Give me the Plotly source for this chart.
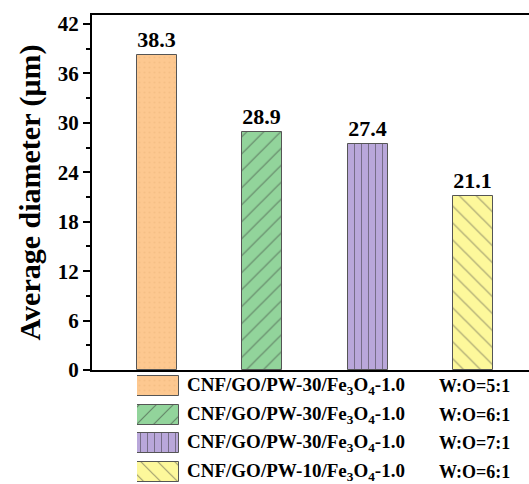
import plotly.graph_objects as go

# ---- data ----
samples = ["CNF/GO/PW-30/Fe<sub>3</sub>O<sub>4</sub>-1.0",
           "CNF/GO/PW-30/Fe<sub>3</sub>O<sub>4</sub>-1.0",
           "CNF/GO/PW-30/Fe<sub>3</sub>O<sub>4</sub>-1.0",
           "CNF/GO/PW-10/Fe<sub>3</sub>O<sub>4</sub>-1.0"]
ratios = ["W:O=5:1", "W:O=6:1", "W:O=7:1", "W:O=6:1"]
diameters = [38.3, 28.9, 27.4, 21.1]
y_ticks = [0, 6, 12, 18, 24, 30, 36, 42]

# ---- styles ----
colors = ["#FDC890", "#92D49B", "#B9A7DA", "#FDF89B"]
pat_shapes = [".", "/", "|", "\\"]
pat_fg = ["#EDB57A", "#333333", "#333333", "#444444"]
pat_size = [5, 12, 7, 12]
pat_sol = [0.15, 0.1, 0.15, 0.1]
FONT = "Liberation Serif, Times New Roman, serif"

W, H = 529, 484
ML, MT = 92, 15
plot_bottom_px = 370
main_dom_bottom = (H - plot_bottom_px) / (H - MT)

fig = go.Figure()
xs = list(range(len(diameters)))
for i in xs:
    fig.add_trace(go.Bar(
        x=[i], y=[diameters[i]], width=0.38,
        marker=dict(color=colors[i], line=dict(color="#555555", width=1),
                    pattern=dict(shape=pat_shapes[i], fgcolor=pat_fg[i], bgcolor=colors[i],
                                 size=pat_size[i], solidity=pat_sol[i])),
        text=[f"{diameters[i]:.1f}"], textposition="outside",
        textfont=dict(family=FONT, size=22, color="black", weight="bold"),
        cliponaxis=False, showlegend=False, xaxis="x", yaxis="y"))

# legend patches (drawn as horizontal bars on an overlay axis)
ROW = 28.5          # legend row pitch in px
ROW0 = 386          # first legend row centre in px
leg_rows = list(range(len(samples)))
for i in leg_rows:
    fig.add_trace(go.Bar(
        y=[i], x=[1], base=[0], orientation="h", width=20 / ROW,
        marker=dict(color=colors[i], line=dict(color="#555555", width=1),
                    pattern=dict(shape=pat_shapes[i], fgcolor=pat_fg[i], bgcolor=colors[i],
                                 size=pat_size[i], solidity=pat_sol[i])),
        showlegend=False, hoverinfo="skip", xaxis="x2", yaxis="y2"))

annotations = []
for i in leg_rows:
    annotations.append(dict(x=(185 - ML) / (W - ML), y=i, xref="paper", yref="y2",
                            text=samples[i], showarrow=False, xanchor="left", yanchor="middle",
                            font=dict(family=FONT, size=19, color="black", weight="bold")))
    annotations.append(dict(x=(437 - ML) / (W - ML), y=i, xref="paper", yref="y2",
                            text=ratios[i], showarrow=False, xanchor="left", yanchor="middle",
                            font=dict(family=FONT, size=18, color="black", weight="bold")))

leg_top_px = 373
fig.update_layout(
    width=W, height=H,
    margin=dict(l=ML, r=0, t=MT, b=0, autoexpand=False),
    paper_bgcolor="white", plot_bgcolor="white",
    bargap=0,
    xaxis=dict(range=[-0.616, 3.53], showticklabels=False, ticks="", showgrid=False,
               zeroline=False, showline=True, linecolor="black", linewidth=2, mirror=True,
               domain=[0, 1], anchor="y", automargin=False),
    yaxis=dict(range=[0, 43.1], domain=[main_dom_bottom, 1], tickvals=y_ticks,
               ticks="outside", ticklen=7, tickwidth=2, tickcolor="black",
               minor=dict(dtick=3, ticks="outside", ticklen=4, tickwidth=2, tickcolor="black"),
               showline=True, linecolor="black", linewidth=2, showgrid=False, zeroline=False,
               tickfont=dict(family=FONT, size=21, color="black", weight="bold"),
               title=dict(text="Average diameter (μm)", standoff=8,
                          font=dict(family=FONT, size=30, color="black", weight="bold")),
               anchor="x", automargin=False),
    xaxis2=dict(domain=[(137 - ML) / (W - ML), (179 - ML) / (W - ML)], range=[0, 1],
                visible=False, anchor="y2", fixedrange=True),
    yaxis2=dict(domain=[0, (H - leg_top_px) / (H - MT)],
                range=[(H - ROW0) / ROW, -(ROW0 - leg_top_px) / ROW],
                visible=False, anchor="x2", fixedrange=True),
    annotations=annotations,
)

fig.write_html("out.html", config={"displayModeBar": False},
               post_script="document.body.style.margin='0px';document.body.style.overflow='hidden';")
